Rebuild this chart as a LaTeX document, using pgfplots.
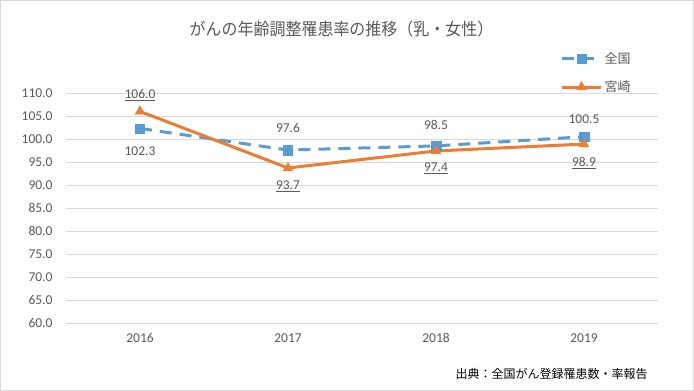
\documentclass[border=0pt]{standalone}
\usepackage{pgfplots}
\pgfplotsset{compat=1.18}
\usepackage{fontspec}
\setmainfont{Carlito}
\newfontfamily\jp{Noto Sans CJK JP}
\newfontfamily\jpt[FakeStretch=0.94]{Noto Sans CJK JP}
\definecolor{blu}{HTML}{5B9BD5}
\definecolor{org}{HTML}{ED7D31}
\definecolor{txt}{HTML}{595959}
\definecolor{grd}{HTML}{D9D9D9}
\begin{document}
\begin{tikzpicture}[x=1pt,y=1pt]
\begin{axis}[
  scale only axis,
  width=592pt, height=230pt,
  xmin=-0.5, xmax=3.5, ymin=60, ymax=110,
  xtick={0,1,2,3}, xticklabels={2016,2017,2018,2019},
  ytick={60,65,...,110},
  yticklabel={\pgfmathprintnumber[fixed,fixed zerofill,precision=1]{\tick}},
  /pgf/number format/assume math mode=true,
  ymajorgrids, grid style={grd, line width=0.8pt},
  axis line style={draw=none},
  major tick length=0pt,
  tick label style={font=\fontsize{13.5}{15}\selectfont, text=txt},
  yticklabel style={xshift=-10pt},
  xticklabel style={yshift=-7pt},
  clip=false,
  legend style={at={(0.83,1.195)}, anchor=north west, draw=none, fill=none,
    font=\jp\fontsize{13}{15}\selectfont, text=txt, row sep=12pt},
  legend cell align=left,
  legend image code/.code={\draw[mark repeat=2,mark phase=2] plot coordinates {(0pt,0pt) (19.5pt,0pt) (39pt,0pt)};},
]
\coordinate (O) at (rel axis cs:0,0);
\addplot[blu, line width=3pt, dash pattern=on 12pt off 8pt, mark=square*, mark size=4.7pt, mark options={solid, line width=0.4pt}]
  coordinates {(0,102.3) (1,97.6) (2,98.5) (3,100.5)};
\addlegendentry{全国}
\addplot[org, line width=3pt, mark=triangle*, mark size=5.6pt, mark options={solid, line width=0.4pt}]
  coordinates {(0,106.0) (1,93.7) (2,97.4) (3,98.9)};
\addlegendentry{宮崎}
\begin{scope}[every node/.style={font=\fontsize{13.5}{15}\selectfont, text=txt}]
\node at (axis cs:0,102.3) [yshift=-23pt] {102.3};
\node at (axis cs:1,97.6) [yshift=22pt] {97.6};
\node at (axis cs:2,98.5) [yshift=21pt] {98.5};
\node at (axis cs:3,100.5) [yshift=18pt] {100.5};
\node at (axis cs:0,106.0) [yshift=16pt] {\underline{106.0}};
\node at (axis cs:1,93.7) [yshift=-18pt] {\underline{93.7}};
\node at (axis cs:2,97.4) [yshift=-17pt] {\underline{97.4}};
\node at (axis cs:3,98.9) [yshift=-19pt] {\underline{98.9}};
\end{scope}
\end{axis}
\draw[grd, line width=0.8pt] ([shift={(-65.6,-67.6)}]O) rectangle ([shift={(627.6,322.6)}]O);
\node[font=\jpt\fontsize{17}{19}\selectfont, text=txt] at ([shift={(275.5,294)}]O) {がんの年齢調整罹患率の推移（乳・女性）};
\node[font=\jp\fontsize{12}{14}\selectfont, text=black] at ([shift={(485.5,-51)}]O) {出典：全国がん登録罹患数・率報告};
\end{tikzpicture}
\end{document}
